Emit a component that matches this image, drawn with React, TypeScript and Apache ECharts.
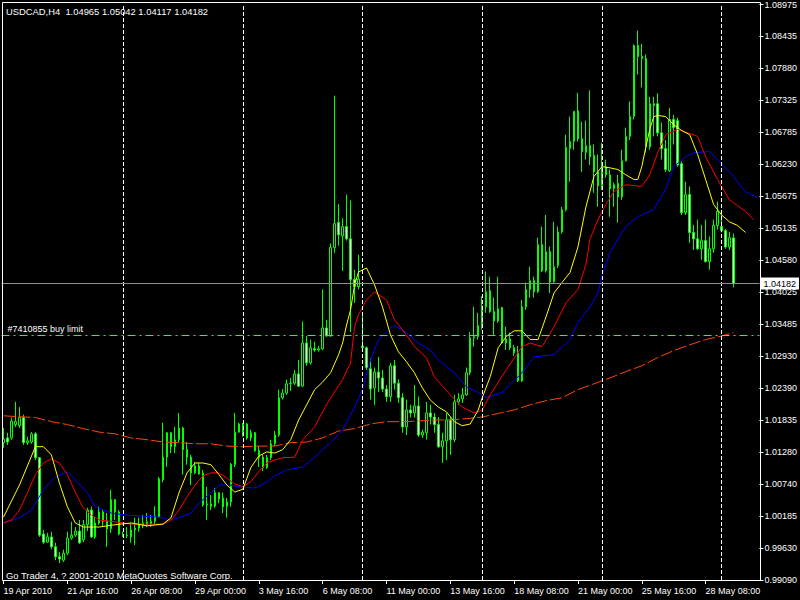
import React, { useEffect, useRef } from 'react';
import * as echarts from 'echarts';

const symbolTitle = 'USDCAD,H4  1.04965 1.05042 1.04117 1.04182';
const copyright = 'Go Trader 4, ? 2001-2010 MetaQuotes Software Corp.';
const orderLabel = '#7410855 buy limit';
const orderPrice = 1.033;
const bidPrice = 1.04182;

const xTickLabels = ['19 Apr 2010', '21 Apr 16:00', '26 Apr 08:00', '29 Apr 00:00', '3 May 16:00', '6 May 08:00', '11 May 00:00', '13 May 16:00', '18 May 08:00', '21 May 00:00', '25 May 16:00', '28 May 08:00'];
const yTickLabels = ['0.99090', '0.99630', '1.00185', '1.00740', '1.01280', '1.01835', '1.02390', '1.02930', '1.03485', '1.04025', '1.04580', '1.05135', '1.05675', '1.06230', '1.06785', '1.07325', '1.07880', '1.08435', '1.08975'];
const yMin = 0.9909;
const yMax = 1.08975;
const barSlots = 190;
const separatorBars = [30, 60, 90, 120, 150, 180];

const opens = [1.0145,1.0153,1.0153,1.0176,1.0174,1.0188,1.0145,1.0146,1.0160,1.0119,0.9988,0.9974,0.9983,0.9966,0.9949,0.9943,0.9955,0.9981,0.9986,0.9993,0.9978,1.0004,1.0029,0.9983,1.0007,1.0026,1.0010,0.9997,1.0047,1.0026,0.9988,0.9985,0.9983,0.9995,0.9998,1.0002,1.0004,1.0005,1.0010,1.0017,1.0081,1.0120,1.0162,1.0138,1.0150,1.0170,1.0133,1.0120,1.0093,1.0105,1.0093,1.0038,1.0035,1.0036,1.0048,1.0050,1.0035,1.0043,1.0107,1.0163,1.0158,1.0177,1.0153,1.0162,1.0131,1.0120,1.0102,1.0119,1.0143,1.0158,1.0222,1.0230,1.0246,1.0247,1.0263,1.0242,1.0316,1.0282,1.0306,1.0304,1.0306,1.0342,1.0328,1.0480,1.0523,1.0500,1.0516,1.0495,1.0425,1.0413,1.0311,1.0308,1.0272,1.0239,1.0266,1.0256,1.0237,1.0224,1.0277,1.0247,1.0222,1.0172,1.0201,1.0196,1.0208,1.0158,1.0162,1.0196,1.0189,1.0176,1.0138,1.0148,1.0184,1.0150,1.0215,1.0220,1.0227,1.0265,1.0325,1.0327,1.0346,1.0378,1.0406,1.0370,1.0354,1.0377,1.0316,1.0323,1.0308,1.0299,1.0251,1.0378,1.0408,1.0423,1.0404,1.0485,1.0440,1.0473,1.0421,1.0449,1.0507,1.0545,1.0650,1.0662,1.0715,1.0667,1.0643,1.0655,1.0638,1.0610,1.0586,1.0619,1.0605,1.0581,1.0590,1.0567,1.0629,1.0671,1.0705,1.0827,1.0808,1.0805,1.0653,1.0727,1.0727,1.0677,1.0650,1.0612,1.0700,1.0698,1.0624,1.0540,1.0571,1.0506,1.0495,1.0478,1.0492,1.0456,1.0478,1.0518,1.0516,1.0509,1.0481,1.04965];
const highs = [1.0170,1.0162,1.0188,1.0215,1.0206,1.0193,1.0155,1.0163,1.0163,1.0120,0.9995,0.9990,0.9992,0.9973,0.9957,0.9961,0.9992,1.0009,1.0000,1.0012,1.0012,1.0033,1.0035,1.0017,1.0035,1.0029,1.0024,1.0064,1.0048,1.0029,0.9992,1.0000,1.0007,1.0016,1.0016,1.0021,1.0024,1.0021,1.0036,1.0086,1.0179,1.0163,1.0163,1.0172,1.0196,1.0172,1.0146,1.0124,1.0112,1.0110,1.0098,1.0069,1.0055,1.0067,1.0060,1.0059,1.0050,1.0110,1.0196,1.0179,1.0179,1.0179,1.0167,1.0163,1.0139,1.0124,1.0124,1.0150,1.0165,1.0236,1.0237,1.0253,1.0256,1.0270,1.0287,1.0353,1.0328,1.0322,1.0318,1.0311,1.0408,1.0356,1.0487,1.0741,1.0555,1.0530,1.0571,1.0561,1.0442,1.0468,1.0365,1.0310,1.0290,1.0274,1.0292,1.0270,1.0244,1.0282,1.0287,1.0254,1.0230,1.0219,1.0210,1.0244,1.0224,1.0167,1.0215,1.0210,1.0196,1.0189,1.0162,1.0196,1.0189,1.0227,1.0230,1.0239,1.0274,1.0335,1.0378,1.0368,1.0396,1.0439,1.0430,1.0394,1.0430,1.0378,1.0344,1.0334,1.0313,1.0311,1.0390,1.0420,1.0447,1.0430,1.0497,1.0516,1.0536,1.0482,1.0524,1.0516,1.0550,1.0674,1.0705,1.0714,1.0746,1.0696,1.0698,1.0750,1.0657,1.0640,1.0660,1.0631,1.0614,1.0592,1.0605,1.0648,1.0686,1.0731,1.0829,1.0853,1.0830,1.0812,1.0739,1.0739,1.0745,1.0695,1.0665,1.0720,1.0708,1.0703,1.0628,1.0593,1.0585,1.0519,1.0528,1.0519,1.0528,1.0499,1.0528,1.0559,1.0536,1.0512,1.0507,1.05042];
const lows = [1.0136,1.0141,1.0150,1.0172,1.0170,1.0141,1.0141,1.0143,1.0115,0.9983,0.9971,0.9973,0.9962,0.9943,0.9938,0.9940,0.9952,0.9978,0.9983,0.9971,0.9974,0.9993,0.9981,0.9980,1.0004,1.0000,0.9966,0.9990,1.0012,0.9986,0.9983,0.9981,0.9973,0.9969,0.9992,0.9998,1.0000,1.0000,1.0004,1.0016,1.0077,1.0103,1.0127,1.0127,1.0145,1.0090,1.0107,1.0072,1.0091,1.0090,1.0035,1.0012,1.0029,1.0033,1.0041,1.0024,1.0016,1.0035,1.0103,1.0162,1.0155,1.0150,1.0148,1.0129,1.0103,1.0096,1.0100,1.0115,1.0139,1.0155,1.0219,1.0227,1.0234,1.0244,1.0241,1.0241,1.0277,1.0279,1.0301,1.0301,1.0304,1.0327,1.0327,1.0471,1.0483,1.0440,1.0492,1.0335,1.0385,1.0408,1.0304,1.0270,1.0219,1.0210,1.0232,1.0232,1.0215,1.0215,1.0236,1.0213,1.0162,1.0158,1.0188,1.0188,1.0155,1.0153,1.0150,1.0176,1.0162,1.0136,1.0110,1.0115,1.0124,1.0146,1.0210,1.0213,1.0225,1.0261,1.0310,1.0322,1.0339,1.0368,1.0368,1.0330,1.0351,1.0315,1.0304,1.0304,1.0294,1.0249,1.0249,1.0373,1.0394,1.0394,1.0402,1.0438,1.0437,1.0402,1.0420,1.0445,1.0504,1.0542,1.0593,1.0648,1.0662,1.0610,1.0631,1.0622,1.0574,1.0550,1.0579,1.0600,1.0533,1.0550,1.0523,1.0562,1.0628,1.0665,1.0700,1.0777,1.0755,1.0643,1.0648,1.0671,1.0671,1.0631,1.0610,1.0610,1.0657,1.0619,1.0536,1.0536,1.0488,1.0476,1.0476,1.0459,1.0454,1.0442,1.0471,1.0511,1.0506,1.0478,1.0476,1.04117];
const closes = [1.0151,1.0146,1.0182,1.0181,1.0188,1.0145,1.0148,1.0160,1.0119,0.9986,0.9974,0.9983,0.9966,0.9949,0.9945,0.9955,0.9981,0.9986,0.9993,0.9973,1.0004,1.0029,0.9983,1.0007,1.0026,1.0010,0.9997,1.0047,1.0026,0.9988,0.9985,0.9986,0.9995,0.9998,1.0005,1.0007,1.0009,1.0010,1.0019,1.0083,1.0120,1.0162,1.0138,1.0150,1.0170,1.0133,1.0120,1.0093,1.0105,1.0091,1.0038,1.0040,1.0040,1.0059,1.0059,1.0035,1.0043,1.0108,1.0163,1.0177,1.0177,1.0153,1.0162,1.0131,1.0120,1.0102,1.0119,1.0143,1.0158,1.0222,1.0230,1.0246,1.0247,1.0263,1.0242,1.0316,1.0282,1.0308,1.0304,1.0306,1.0342,1.0328,1.0480,1.0521,1.0502,1.0516,1.0495,1.0425,1.0413,1.0426,1.0308,1.0274,1.0237,1.0266,1.0256,1.0237,1.0224,1.0277,1.0247,1.0222,1.0172,1.0201,1.0196,1.0208,1.0158,1.0163,1.0196,1.0189,1.0176,1.0138,1.0148,1.0184,1.0150,1.0215,1.0220,1.0227,1.0265,1.0325,1.0327,1.0346,1.0380,1.0404,1.0370,1.0354,1.0375,1.0316,1.0323,1.0308,1.0299,1.0251,1.0378,1.0408,1.0423,1.0404,1.0485,1.0440,1.0473,1.0421,1.0447,1.0507,1.0545,1.0652,1.0662,1.0714,1.0667,1.0645,1.0655,1.0636,1.0610,1.0586,1.0619,1.0605,1.0581,1.0588,1.0567,1.0629,1.0671,1.0705,1.0827,1.0808,1.0805,1.0653,1.0727,1.0724,1.0677,1.0650,1.0614,1.0700,1.0686,1.0622,1.0540,1.0571,1.0506,1.0495,1.0478,1.0492,1.0456,1.0478,1.0518,1.0542,1.0509,1.0481,1.0497,1.04182];

// Alligator lines and slow MA, read at sample bars: [bar index, price]
const lips = [[0,1.0017],[4,1.0072],[8,1.0138],[10,1.0138],[12,1.0124],[14,1.0076],[16,1.0035],[18,1.0007],[20,1.0000],[24,1.0000],[28,1.0004],[32,1.0007],[36,1.0002],[40,1.0005],[42,1.0016],[44,1.0059],[46,1.0093],[48,1.0110],[50,1.0110],[52,1.0107],[54,1.0090],[56,1.0072],[58,1.0060],[60,1.0065],[62,1.0102],[64,1.0122],[66,1.0129],[68,1.0127],[70,1.0133],[72,1.0150],[74,1.0184],[76,1.0210],[78,1.0236],[80,1.0249],[82,1.0265],[84,1.0296],[85,1.0316],[86,1.0347],[87,1.0373],[88,1.0416],[89,1.0438],[91,1.0445],[93,1.0416],[95,1.0378],[97,1.0330],[99,1.0301],[101,1.0284],[103,1.0265],[105,1.0239],[107,1.0218],[109,1.0206],[111,1.0198],[113,1.0181],[115,1.0174],[117,1.0177],[119,1.0201],[120,1.0222],[122,1.0258],[124,1.0308],[126,1.0327],[128,1.0337],[130,1.0337],[132,1.0322],[134,1.0322],[136,1.0361],[138,1.0402],[140,1.0420],[142,1.0437],[144,1.0481],[146,1.0550],[148,1.0602],[150,1.0619],[152,1.0617],[154,1.0614],[156,1.0605],[158,1.0597],[159,1.0597],[160,1.0619],[161,1.0652],[162,1.0683],[163,1.0705],[164,1.0707],[166,1.0705],[168,1.0691],[170,1.0681],[172,1.0674],[174,1.0640],[176,1.0597],[178,1.0554],[180,1.0536],[182,1.0524],[184,1.0518],[186,1.0506]];
const teeth = [[0,1.0007],[2,1.0012],[4,1.0029],[6,1.0059],[8,1.0090],[10,1.0110],[12,1.0117],[14,1.0110],[16,1.0090],[18,1.0060],[20,1.0033],[22,1.0021],[24,1.0012],[28,1.0009],[32,1.0005],[36,1.0005],[40,1.0005],[42,1.0012],[44,1.0029],[46,1.0052],[48,1.0072],[50,1.0088],[52,1.0093],[54,1.0093],[56,1.0084],[58,1.0074],[60,1.0069],[62,1.0078],[64,1.0095],[66,1.0110],[68,1.0115],[70,1.0119],[73,1.0120],[75,1.0150],[78,1.0172],[80,1.0198],[82,1.0222],[85,1.0253],[87,1.0282],[88,1.0344],[89,1.0365],[91,1.0390],[93,1.0404],[96,1.0390],[98,1.0356],[101,1.0330],[103,1.0310],[106,1.0291],[108,1.0258],[112,1.0227],[115,1.0206],[118,1.0196],[120,1.0201],[122,1.0227],[126,1.0270],[130,1.0310],[132,1.0316],[135,1.0310],[138,1.0344],[141,1.0385],[144,1.0408],[146,1.0451],[147,1.0494],[149,1.0528],[151,1.0554],[153,1.0576],[156,1.0588],[160,1.0585],[162,1.0605],[164,1.0643],[166,1.0674],[169,1.0683],[172,1.0676],[174,1.0671],[176,1.0636],[179,1.0597],[182,1.0562],[184,1.0552],[186,1.0542],[188,1.0528]];
const jaw = [[0,1.0007],[4,1.0016],[7,1.0029],[10,1.0064],[13,1.0086],[16,1.0095],[18,1.0081],[21,1.0059],[23,1.0035],[27,1.0024],[30,1.0021],[34,1.0019],[39,1.0017],[42,1.0012],[44,1.0016],[47,1.0024],[49,1.0041],[52,1.0059],[54,1.0072],[57,1.0072],[59,1.0069],[63,1.0067],[66,1.0077],[68,1.0088],[71,1.0098],[75,1.0103],[78,1.0120],[82,1.0145],[85,1.0167],[88,1.0206],[90,1.0236],[92,1.0287],[94,1.0322],[97,1.0342],[98,1.0346],[101,1.0334],[104,1.0316],[107,1.0304],[109,1.0287],[113,1.0265],[116,1.0241],[119,1.0231],[121,1.0222],[125,1.0231],[130,1.0265],[133,1.0292],[138,1.0296],[142,1.0322],[144,1.0351],[147,1.0378],[149,1.0402],[150,1.0430],[152,1.0471],[155,1.0506],[156,1.0516],[159,1.0533],[163,1.0545],[166,1.0580],[168,1.0619],[171,1.0636],[173,1.0643],[177,1.0645],[179,1.0631],[183,1.0602],[186,1.0576],[189,1.0566]];
const slowMa = [[0,1.0191],[8,1.0188],[12,1.0181],[16,1.0176],[20,1.0169],[24,1.0163],[28,1.0160],[32,1.0153],[36,1.0150],[40,1.0146],[44,1.0145],[48,1.0143],[52,1.0143],[56,1.0139],[60,1.0138],[64,1.0139],[68,1.0139],[72,1.0145],[76,1.0146],[80,1.0153],[84,1.0165],[88,1.0169],[92,1.0177],[96,1.0181],[100,1.0181],[104,1.0182],[108,1.0184],[112,1.0184],[116,1.0186],[120,1.0189],[124,1.0195],[128,1.0201],[132,1.0210],[136,1.0217],[140,1.0222],[144,1.0236],[148,1.0246],[152,1.0256],[156,1.0267],[160,1.0277],[164,1.0291],[168,1.0303],[172,1.0313],[176,1.0322],[180,1.0328],[183,1.0334]];

const FONT = "'Liberation Sans', Arial, sans-serif";

function buildCategories(): string[] {
  const out: string[] = [];
  let t = Date.UTC(2010, 3, 19, 0, 0, 0);
  const pad = (n: number) => (n < 10 ? '0' + n : '' + n);
  while (out.length < barSlots) {
    const d = new Date(t);
    const wd = d.getUTCDay();
    if (wd !== 0 && wd !== 6) {
      out.push(`${d.getUTCFullYear()}.${pad(d.getUTCMonth() + 1)}.${pad(d.getUTCDate())} ${pad(d.getUTCHours())}:00`);
    }
    t += 4 * 3600 * 1000;
  }
  return out;
}

export default function App() {
  const ref = useRef<HTMLDivElement>(null);
  useEffect(() => {
    if (!ref.current) return;
    const chart = echarts.init(ref.current, undefined, { renderer: 'svg' });
    const yStep = (yMax - yMin) / (yTickLabels.length - 1);
    const categories = buildCategories();
    const candles = opens.map((o, i) => [o, closes[i], lows[i], highs[i]]);

    const sepLines = separatorBars.map((b) => ({
      xAxis: b,
      lineStyle: { color: '#ffffff', type: [4, 2], width: 1 },
      label: { show: false },
    }));

    const option: any = {
      animation: false,
      backgroundColor: '#000000',
      textStyle: { fontFamily: FONT },
      grid: { left: 1.5, top: 4.5, width: 760, bottom: 20, containLabel: false },
      xAxis: {
        type: 'category',
        data: categories,
        boundaryGap: true,
        axisLine: { show: false },
        axisTick: { show: true, interval: 15, alignWithLabel: true, length: 4, lineStyle: { color: '#ffffff' } },
        axisLabel: {
          interval: 15,
          color: '#ffffff',
          fontSize: 9,
          fontFamily: FONT,
          align: 'left',
          margin: 6,
          formatter: (_v: string, i: number) => (i % 16 === 0 ? xTickLabels[i / 16] ?? '' : ''),
        },
        splitLine: { show: false },
      },
      yAxis: {
        type: 'value',
        position: 'right',
        min: yMin,
        max: yMax,
        interval: yStep,
        axisLine: { show: false },
        axisTick: { show: true, length: 4, lineStyle: { color: '#ffffff' } },
        axisLabel: {
          color: '#ffffff',
          fontSize: 9,
          fontFamily: FONT,
          margin: 5,
          formatter: (v: number) => yTickLabels[Math.round((v - yMin) / yStep)] ?? '',
        },
        splitLine: { show: false },
      },
      series: [
        {
          type: 'candlestick',
          data: candles,
          barWidth: 2,
          silent: true,
          itemStyle: {
            color: '#000000',
            color0: '#ffffff',
            borderColor: '#00ff00',
            borderColor0: '#00ff00',
            borderColorDoji: '#00ff00',
            borderWidth: 1,
          },
          markLine: {
            silent: true,
            symbol: ['none', 'none'],
            animation: false,
            precision: 6,
            data: [
              ...sepLines,
              {
                yAxis: bidPrice,
                lineStyle: { color: '#909090', type: 'solid', width: 1 },
                label: {
                  show: true,
                  position: 'end',
                  distance: 1,
                  formatter: () => bidPrice.toFixed(5),
                  backgroundColor: '#ffffff',
                  color: '#000000',
                  padding: [2, 3, 1, 3],
                  fontSize: 9,
                  fontFamily: FONT,
                },
              },
              {
                yAxis: orderPrice,
                lineStyle: { color: '#4ee04e', type: [8, 4, 2, 4], width: 1.2 },
                label: {
                  show: true,
                  position: 'insideStartTop',
                  distance: [6, 1],
                  formatter: orderLabel,
                  color: '#ffffff',
                  fontSize: 9,
                  fontFamily: FONT,
                },
              },
            ],
          },
        },
        {
          type: 'line', data: slowMa, symbol: 'none', silent: true,
          lineStyle: { color: '#ff4500', width: 1, type: [12, 3] },
        },
        { type: 'line', data: jaw, symbol: 'none', silent: true, lineStyle: { color: '#0000ff', width: 1 } },
        { type: 'line', data: teeth, symbol: 'none', silent: true, lineStyle: { color: '#ff0000', width: 1 } },
        { type: 'line', data: lips, symbol: 'none', silent: true, lineStyle: { color: '#ffff00', width: 1 } },
      ],
      graphic: [
        {
          type: 'rect',
          silent: true,
          z: 100,
          shape: { x: 2.5, y: 2.5, width: 758, height: 578 },
          style: { fill: 'none', stroke: '#ffffff', lineWidth: 1 },
        },
        {
          type: 'text',
          x: 6,
          y: 11,
          z: 100,
          style: { text: symbolTitle, fill: '#ffffff', fontSize: 9.4, fontFamily: FONT, verticalAlign: 'middle' },
        },
        {
          type: 'text',
          x: 6,
          y: 575,
          z: 100,
          style: { text: copyright, fill: '#ffffff', fontSize: 9.4, fontFamily: FONT, verticalAlign: 'middle' },
        },
      ],
    };
    chart.setOption(option);
    return () => chart.dispose();
  }, []);
  return (
    <div
      ref={ref}
      style={{ position: 'absolute', left: 0, top: 0, width: 800, height: 600, background: '#000' }}
    />
  );
}
